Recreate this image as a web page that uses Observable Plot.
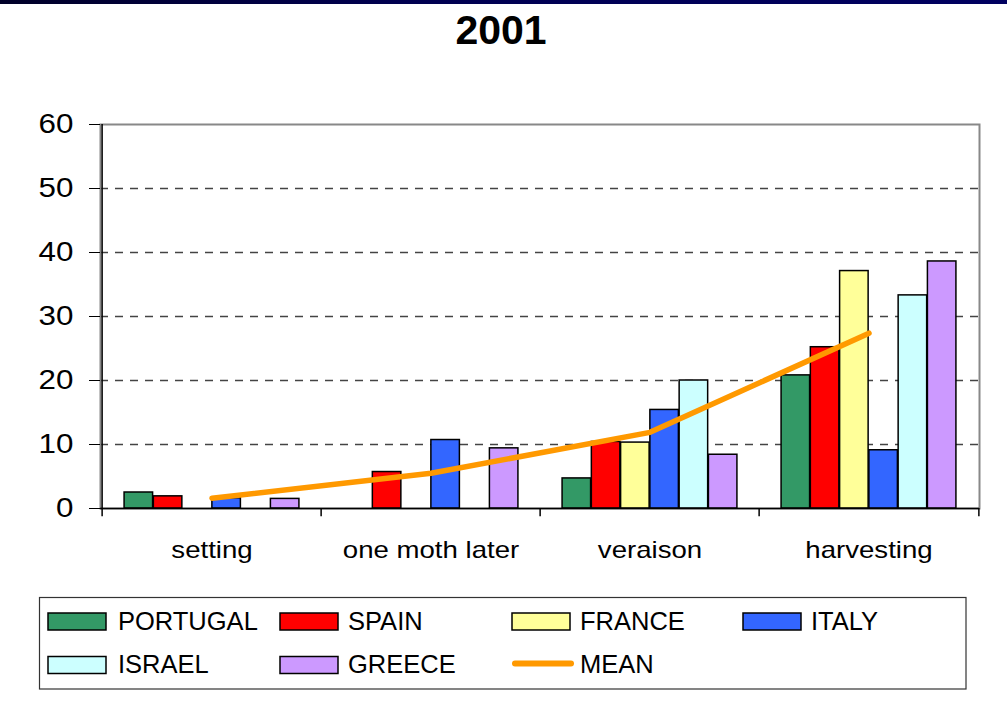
<!DOCTYPE html>
<html>
<head>
<meta charset="utf-8">
<script src="https://cdn.jsdelivr.net/npm/d3@7"></script>
<script src="https://cdn.jsdelivr.net/npm/@observablehq/plot@0.6"></script>
<style>
  html, body { margin: 0; padding: 0; background: #fff; }
  #page { position: relative; width: 1007px; height: 706px; overflow: hidden; font-family: "Liberation Sans", Arial, sans-serif; }
  #topbar { position: absolute; left: 0; top: 0; width: 1007px; height: 4px; background: linear-gradient(to right, #000028, #000050 40%, #000060); }
  #title { position: absolute; left: 0; top: 7px; width: 1002px; text-align: center; font-size: 41px; line-height: 47px; font-weight: bold; color: #000; }
  #chart { position: absolute; left: 0; top: 0; }
  #legend { position: absolute; left: 0; top: 590px; }
</style>
</head>
<body>
<div id="page">
  <div id="topbar"></div>
  <div id="title">2001</div>
  <div id="chart"></div>
  <div id="legend"></div>
</div>
<script>
// ---- data ----
const stages = ["setting", "one moth later", "veraison", "harvesting"];
const countries = ["PORTUGAL", "SPAIN", "FRANCE", "ITALY", "ISRAEL", "GREECE"];
const countryColors = ["#339966", "#FF0000", "#FFFF99", "#3366FF", "#CCFFFF", "#CC99FF"];
const portugal = [2.5, null, 4.7, 20.8];
const spain    = [1.9, 5.7, 10.4, 25.2];
const france   = [null, null, 10.3, 37.1];
const italy    = [1.6, 10.7, 15.4, 9.1];
const israel   = [null, null, 20.0, 33.3];
const greece   = [1.5, 9.4, 8.4, 38.6];
const mean     = [1.6, 5.5, 11.9, 27.4];
const yTicks   = [0, 10, 20, 30, 40, 50, 60];
const gridTicks = [10, 20, 30, 40, 50];
const meanLabel = "MEAN";
const meanColor = "#FF9900";

const seriesValues = [portugal, spain, france, italy, israel, greece];

// ---- layout ----
const W = 1007, H = 590;
const mL = 100, mR = 28, mT = 124, mB = 82;
const bw = (W - mL - mR) / stages.length;  // band width
const groupW = 175.6;
const barW = groupW / countries.length;
const groupOffset = (bw - groupW) / 2;

const barMarks = countries.map((c, i) => {
  const rows = stages.map((s, j) => ({stage: s, value: seriesValues[i][j]})).filter(d => d.value != null);
  const left = groupOffset + i * barW;
  return Plot.barY(rows, {
    x: "stage", y: "value",
    fill: countryColors[i], stroke: "#000", strokeWidth: 1.5,
    insetLeft: left, insetRight: bw - left - barW
  });
});

const meanRows = stages.map((s, j) => ({stage: s, value: mean[j]}));

const chart = Plot.plot({
  width: W, height: H,
  marginLeft: mL, marginRight: mR, marginTop: mT, marginBottom: mB,
  style: {fontFamily: '"Liberation Sans", Arial, sans-serif', background: "transparent", color: "#000"},
  x: {type: "band", domain: stages, padding: 0},
  y: {domain: [0, 60]},
  marks: [
    Plot.ruleY(gridTicks, {stroke: "#444", strokeDasharray: "8,7", strokeWidth: 1.3}),
    Plot.frame({stroke: "#888", strokeWidth: 2}),
    ...barMarks,
    Plot.ruleY([0], {stroke: "#000", strokeWidth: 1.5}),
    Plot.ruleX(stages, {x: d => d, dx: -bw / 2, y1: -1.3, y2: d => d === stages[0] ? 60 : 0, stroke: "#000", strokeWidth: 1.5}),
    Plot.ruleX([stages[stages.length - 1]], {x: d => d, dx: bw / 2, y1: -1.3, y2: 0, stroke: "#000", strokeWidth: 1.5}),
    Plot.line(meanRows, {x: "stage", y: "value", stroke: meanColor, strokeWidth: 5.5, strokeLinecap: "round", strokeLinejoin: "round"}),
    Plot.axisY(yTicks, {tickSize: 11, tickPadding: 16, fontSize: 28, label: null}),
    Plot.axisX({tickSize: 0, tickPadding: 33, fontSize: 23, label: null})
  ]
});
document.getElementById("chart").appendChild(chart);

// widen the axis labels horizontally (the reference text is stretched)
function stretch(selector, sx) {
  chart.querySelectorAll(selector).forEach(t => {
    const tr = t.getAttribute("transform");
    if (tr) {
      t.setAttribute("transform", tr + ` scale(${sx},1)`);
    } else {
      const x = +t.getAttribute("x") || 0;
      t.setAttribute("transform", `translate(${x},0) scale(${sx},1) translate(${-x},0)`);
    }
  });
}
stretch('g[aria-label="x-axis tick label"] text', 1.2);
stretch('g[aria-label="y-axis tick label"] text', 1.12);

// ---- legend ----
const legendItems = countries.map((c, i) => ({label: c, color: countryColors[i], type: "bar"}))
  .concat([{label: meanLabel, color: meanColor, type: "line"}]);
const colX = [48, 280, 512, 743];
const textX = [118, 348, 580, 811];
const rowSwatchY = [23, 66.5];
const rowBase = [40, 83];

const lsvg = d3.select("#legend").append("svg")
  .attr("width", W).attr("height", 116)
  .style("font-family", '"Liberation Sans", Arial, sans-serif');
lsvg.append("rect").attr("x", 39.5).attr("y", 7.5).attr("width", 926.5).attr("height", 91.5)
  .attr("fill", "#fff").attr("stroke", "#333").attr("stroke-width", 1.2);
legendItems.forEach((it, k) => {
  const r = Math.floor(k / 4), c = k % 4;
  if (it.type === "bar") {
    lsvg.append("rect").attr("x", colX[c]).attr("y", rowSwatchY[r]).attr("width", 58).attr("height", 17)
      .attr("fill", it.color).attr("stroke", "#000").attr("stroke-width", 1.5);
  } else {
    lsvg.append("line").attr("x1", colX[c] + 3).attr("x2", colX[c] + 59)
      .attr("y1", rowSwatchY[r] + 7).attr("y2", rowSwatchY[r] + 7)
      .attr("stroke", it.color).attr("stroke-width", 6).attr("stroke-linecap", "round");
  }
  lsvg.append("text").attr("x", textX[c]).attr("y", rowBase[r])
    .attr("font-size", 25.5).attr("fill", "#000").text(it.label);
});
</script>
</body>
</html>
